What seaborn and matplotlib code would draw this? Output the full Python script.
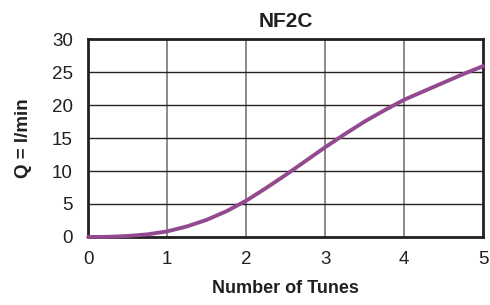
import pandas as pd
import matplotlib
matplotlib.use('Agg')
import matplotlib.pyplot as plt
import seaborn as sns

# Values
turns = [0, 0.25, 0.5, 0.75, 1, 1.25, 1.5, 1.75, 2, 2.25, 2.5,
         2.75, 3, 3.25, 3.5, 3.75, 4, 4.25, 4.5, 4.75, 5]
flow = [0, 0.02, 0.15, 0.4, 0.85, 1.6, 2.6, 3.9, 5.5, 7.4, 9.4,
        11.5, 13.6, 15.6, 17.5, 19.2, 20.8, 22.1, 23.4, 24.7, 25.9]
x_ticks = [0, 1, 2, 3, 4, 5]
y_ticks = [0, 5, 10, 15, 20, 25, 30]

data = pd.DataFrame({'turns': turns, 'flow': flow})

sns.set_style('white')
plt.rcParams['font.family'] = ['Liberation Sans', 'DejaVu Sans']

fig = plt.figure(figsize=(4.9, 3.05), dpi=100)
ax = fig.add_axes([0.18, 0.223, 0.806, 0.649])

for x in x_ticks[1:-1]:
    ax.axvline(x, color='#6e6a6a', lw=1.1, zorder=1)
for y in y_ticks[1:-1]:
    ax.axhline(y, color='#2a2020', lw=1.0, zorder=1)

sns.lineplot(data=data, x='turns', y='flow', color='#93498f', lw=2.8,
             ax=ax, zorder=3, clip_on=False)

ax.set_xlim(0, 5)
ax.set_ylim(0, 30)
ax.set_xticks(x_ticks)
ax.set_yticks(y_ticks)
ax.tick_params(axis='y', length=0, labelsize=13.5, colors='#231f20', pad=11)
ax.tick_params(axis='x', length=0, labelsize=13.5, colors='#231f20', pad=10)
for s in ax.spines.values():
    s.set_color('#231f20')
    s.set_linewidth(2)

ax.set_xlabel('Number of Tunes', fontsize=13, fontweight='bold',
              color='#231f20', labelpad=9)
ax.set_ylabel('Q = l/min', fontsize=13.5, fontweight='bold',
              color='#231f20', labelpad=14)
ax.set_title('NF2C', fontsize=15, fontweight='bold', color='#231f20', pad=9)

fig.savefig('out.png', dpi=100)
